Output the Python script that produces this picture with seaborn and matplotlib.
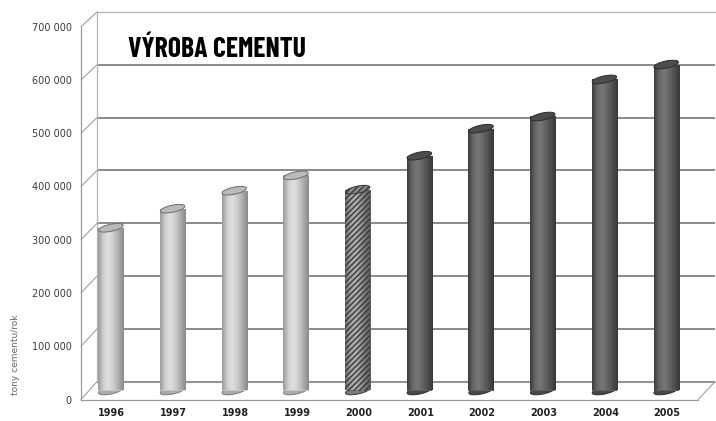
import numpy as np
import pandas as pd
import matplotlib
matplotlib.use('Agg')
import matplotlib.pyplot as plt
import matplotlib.transforms as mtransforms
from matplotlib.patches import Ellipse, ConnectionPatch
from matplotlib.colors import LinearSegmentedColormap
from matplotlib.ticker import FuncFormatter
import seaborn as sns

# data
years = ['1996', '1997', '1998', '1999', '2000', '2001', '2002', '2003', '2004', '2005']
production = [307000, 343000, 377000, 406000, 379000, 443000, 494000, 517000, 587000, 615000]
fill_style = ['light'] * 4 + ['hatch'] + ['dark'] * 5
yticks = list(range(0, 700001, 100000))

title = 'VÝROBA CEMENTU'
ylabel = 'tony cementu/rok'

W, H = 716, 421
sns.set_style('white')
plt.rcParams['font.family'] = ['DejaVu Sans']

fig = plt.figure(figsize=(W / 100, H / 100), dpi=100)


def px_axes(x0, x1, y_top, y_bot):
    # axes placed by pixel box (y measured from the top)
    return fig.add_axes([x0 / W, 1 - y_bot / H, (x1 - x0) / W, (y_bot - y_top) / H])


# back wall with the grid
ax_back = px_axes(97, 715, 12, 381.7)
ax_back.set_xlim(0, 1)
ax_back.set_ylim(0, 700000)
ax_back.set_yticks(yticks)
ax_back.set_xticks([])
ax_back.grid(axis='y', color='#8a8a8a', lw=1.4)
ax_back.tick_params(left=False, labelleft=False)
for s in ['left', 'top']:
    ax_back.spines[s].set_color('#b4b4b4')
    ax_back.spines[s].set_linewidth(0.9)
ax_back.spines['bottom'].set_color('#9a9a9a')
ax_back.spines['right'].set_visible(False)

# front axis: value labels and years
ax_front = px_axes(81, 698, 26.7, 399.5)
ax_front.patch.set_visible(False)
ax_front.set_xlim(-0.5, len(years) - 0.5)
ax_front.set_ylim(0, 700000)
ax_front.set_yticks(yticks)
ax_front.yaxis.set_major_formatter(FuncFormatter(lambda v, p: f'{int(v):,}'.replace(',', ' ')))
ax_front.set_xticks(range(len(years)))
ax_front.set_xticklabels(years, fontsize=7, fontweight='bold', color='#222222')
ax_front.set_xticks(np.arange(-0.5, len(years)), minor=True)
ax_front.tick_params(axis='x', which='major', length=0, pad=6)
ax_front.tick_params(axis='x', which='minor', length=4, color='#888888', width=0.8)
ax_front.tick_params(axis='y', length=3, color='#888888', width=0.8, pad=3.5,
                     labelsize=7, labelcolor='#3c3c3c')
for s in ['top', 'right']:
    ax_front.spines[s].set_visible(False)
for s in ['left', 'bottom']:
    ax_front.spines[s].set_color('#999999')
    ax_front.spines[s].set_linewidth(0.9)

# side wall and floor edges joining front and back
for v in yticks:
    fig.add_artist(ConnectionPatch(xyA=(-0.5, v), coordsA=ax_front.transData,
                                   xyB=(0, v), coordsB=ax_back.transData,
                                   color='#a0a0a0', lw=0.8))
fig.add_artist(ConnectionPatch(xyA=(len(years) - 0.5, 0), coordsA=ax_front.transData,
                               xyB=(1, 0), coordsB=ax_back.transData,
                               color='#a0a0a0', lw=0.8))

# cylinders at mid depth
ax_bars = px_axes(80, 697, 19.5, 390.5)
ax_bars.patch.set_visible(False)
df = pd.DataFrame({'rok': years, 'vyroba': production, 'styl': fill_style})
base = {'light': '#c4c4c4', 'hatch': '#8e8e8e', 'dark': '#5e5e5e'}
sns.barplot(data=df, x='rok', y='vyroba', hue='rok',
            palette=[base[s] for s in fill_style], legend=False,
            width=0.41, saturation=1, linewidth=0, ax=ax_bars)

shades = {
    'light': ['#9a9a9a', '#cfcfcf', '#e0e0e0', '#cccccc', '#ababab', '#8a8a8a'],
    'hatch': ['#6a6a6a', '#a2a2a2', '#b2b2b2', '#999999', '#747474', '#5e5e5e'],
    'dark': ['#3c3c3c', '#686868', '#777777', '#646464', '#4e4e4e', '#383838'],
}
caps = {
    'light': ('#bababa', '#6c6c6c'),
    'hatch': ('#8c8c8c', '#3a3a3a'),
    'dark': ('#4c4c4c', '#2c2c2c'),
}
bottoms = {
    'light': ('#ababab', '#7a7a7a'),
    'hatch': ('#7a7a7a', '#3a3a3a'),
    'dark': ('#484848', '#2c2c2c'),
}

grad = np.linspace(0, 1, 64).reshape(1, -1)
for bar, style in zip(ax_bars.patches[:len(years)], fill_style):
    x0 = bar.get_x()
    w = bar.get_width()
    h = bar.get_height()
    cmap = LinearSegmentedColormap.from_list(style, shades[style])
    if style == 'hatch':
        bar.set_facecolor('none')
        bar.set_edgecolor('#3a3a3a')
        bar.set_hatch('//////')
        z = bar.get_zorder() - 0.2
    else:
        z = bar.get_zorder() + 0.1
    im = ax_bars.imshow(grad, extent=(x0, x0 + w, 0, h), aspect='auto', cmap=cmap,
                        interpolation='bicubic', zorder=z)
    im.set_clip_path(bar)

    xc = x0 + w / 2
    face, edge = caps[style]
    top = Ellipse((0, 0), 25, 7, angle=12,
                  transform=mtransforms.ScaledTranslation(xc, h, ax_bars.transData),
                  facecolor=face, edgecolor=edge, lw=0.7, zorder=bar.get_zorder() + 1,
                  clip_on=False)
    if style == 'hatch':
        top.set_hatch('//////')
    ax_bars.add_patch(top)
    face, edge = bottoms[style]
    bot = Ellipse((0, 0), 25, 7, angle=12,
                  transform=mtransforms.ScaledTranslation(xc, 0, ax_bars.transData),
                  facecolor=face, edgecolor=edge, lw=0.7, zorder=bar.get_zorder() - 0.5,
                  clip_on=False)
    ax_bars.add_patch(bot)

ax_bars.set_xlim(-0.5, len(years) - 0.5)
ax_bars.set_ylim(0, 700000)
ax_bars.axis('off')

# texts
fig.text(128 / W, 1 - 57 / H, title, fontsize=20, fontweight='bold', color='black',
         family=['Barlow Condensed', 'DejaVu Sans'], ha='left', va='baseline')
fig.text(16 / W, 1 - 355 / H, ylabel, rotation=90, fontsize=6.5, color='#666666',
         ha='center', va='center')

fig.savefig('out.png', dpi=100)
